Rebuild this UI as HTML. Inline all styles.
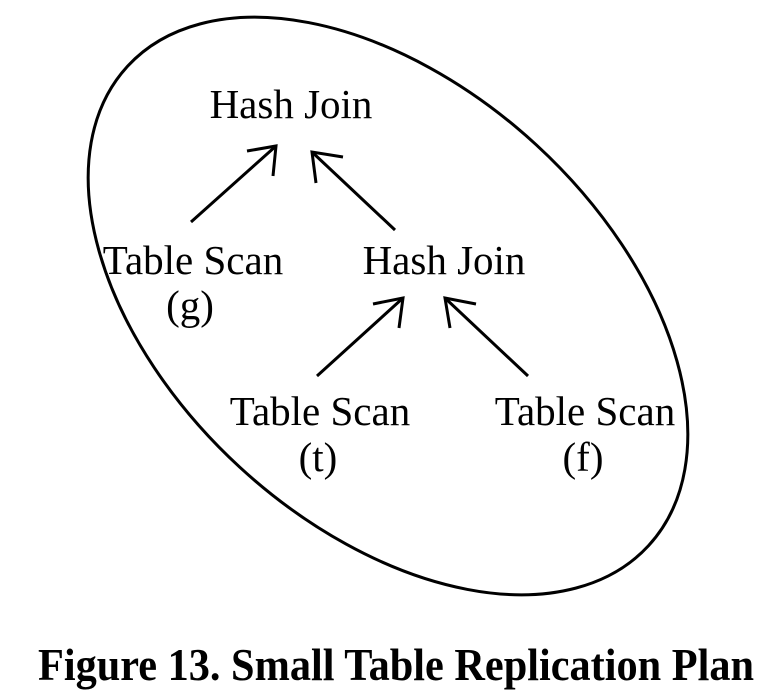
<!DOCTYPE html>
<html><head><meta charset="utf-8"><style>
html,body{margin:0;padding:0;background:#fff;}
svg{display:block;}
text{font-family:"Liberation Serif",serif;fill:#000;}
</style></head><body>
<svg width="780" height="692" viewBox="0 0 780 692">
<ellipse cx="388" cy="306" rx="354" ry="219" transform="rotate(42.6 388 306)" fill="none" stroke="#000" stroke-width="3"/>
<g font-size="41" text-anchor="middle">
<text x="291" y="118">Hash Join</text>
<text x="193" y="274">Table Scan</text>
<text x="190" y="319">(g)</text>
<text x="444" y="274">Hash Join</text>
<text x="320" y="425">Table Scan</text>
<text x="318" y="471">(t)</text>
<text x="585" y="425">Table Scan</text>
<text x="583" y="471">(f)</text>
</g>
<g fill="none" stroke="#000" stroke-width="3">
<g><line x1="191" y1="222" x2="276" y2="146"/><polyline points="247,151 276,146 273,176"/></g>
<g><line x1="395" y1="230" x2="312" y2="152"/><polyline points="343,157 312,152 316,183"/></g>
<g><line x1="317" y1="376" x2="403" y2="298"/><polyline points="373,304 403,298 399,328"/></g>
<g><line x1="528" y1="376" x2="445" y2="298"/><polyline points="476,304 445,298 450,328"/></g>
</g>
<text x="38" y="680" font-size="46" font-weight="bold" textLength="716" lengthAdjust="spacingAndGlyphs">Figure 13. Small Table Replication Plan</text>
</svg>
</body></html>
